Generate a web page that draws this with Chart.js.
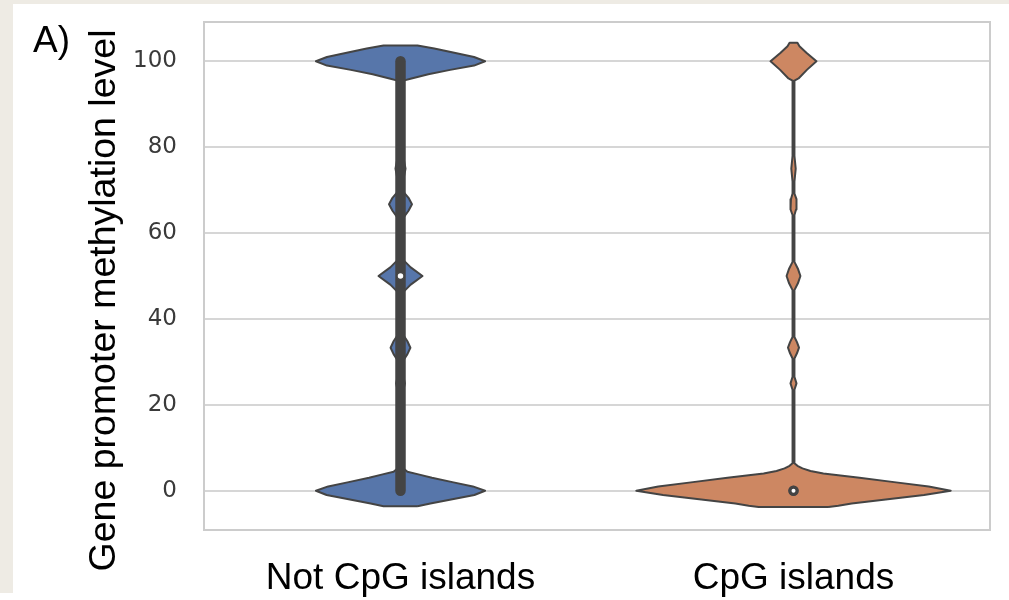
<!DOCTYPE html>
<html>
<head>
<meta charset="utf-8">
<script src="https://cdn.jsdelivr.net/npm/chart.js@4.4.1/dist/chart.umd.min.js"></script>
<style>
  html, body { margin: 0; padding: 0; background: #ffffff; }
  #wrap { width: 1009px; height: 600px; }
</style>
</head>
<body>
<div id="wrap"><canvas id="chart" width="1009" height="600"></canvas></div>
<script>
// Categories and axis ticks
const categories = ['Not CpG islands', 'CpG islands'];
const yTicks = [0, 20, 40, 60, 80, 100];
const yAxisTitle = 'Gene promoter methylation level';
const panelLabel = 'A)';

// Violin density profiles: methylation level -> relative density (100 = widest violin)
const notCpgLevels = [-3.6, -3, -2, -1, 0, 1, 2, 3, 3.8, 4.4, 5.2, 23.5, 25, 26.5, 30.4, 31.8, 33.3, 34.8, 36.2,
  46.3, 48, 50, 52, 53.7, 63.6, 65.2, 66.7, 68.2, 69.6, 72.5, 75, 77.5, 95.5, 96, 97, 98, 99, 100, 101, 102, 103, 103.7];
const notCpgDensity = [10.8, 19, 33, 47, 53.8, 46, 33, 20, 11.4, 4.4, 1.9, 1.9, 2.8, 1.9, 1.9, 4.4, 6.3, 4.4, 1.9,
  1.9, 6.5, 14, 6.5, 1.9, 1.9, 5.1, 7.3, 5.1, 1.9, 1.9, 3.2, 1.9, 1.9, 7, 17.7, 31.6, 46.8, 53.8, 46.8, 34.2, 21.5, 10.8];

const cpgLevels = [-3.8, -3.5, -3, -2, -1, 0, 1, 2, 3, 4, 4.6, 5.2, 5.8, 6.4, 23.5, 25, 26.5, 30.8, 32, 33.3, 34.6, 35.8,
  46.7, 48.3, 50, 51.7, 53.3, 64.2, 65.5, 66.7, 67.9, 69.2, 72, 75, 78, 95.5, 96, 98, 100, 102, 103.5, 104.3];
const cpgDensity = [22.2, 28.5, 37, 60, 83, 100, 86, 64, 42, 19, 10.8, 5.7, 2.5, 0.6, 0.6, 1.9, 0.6, 0.6, 2.2, 3.5, 2.2, 0.6,
  0.6, 2.8, 4.4, 2.8, 0.6, 0.6, 1.6, 2.2, 1.6, 0.6, 0.6, 1.4, 0.6, 0.6, 3.2, 8.5, 14.6, 8.2, 3.8, 2.5];

// Box-plot summary per category
const whiskerLow  = [0, 0];
const quartile1   = [0, 0];
const medians     = [50, 0];
const quartile3   = [100, 0];
const whiskerHigh = [100, 0];

const fillColors = ['#5776aa', '#cd8762'];
const edgeGray = '#444444';
const VIOLIN_HALF = 0.4; // half of a 0.8-wide violin, in category units

function violinOutline(center, levels, density) {
  const right = levels.map((y, k) => ({ x: center + density[k] / 100 * VIOLIN_HALF, y }));
  const left = levels.map((y, k) => ({ x: center - density[k] / 100 * VIOLIN_HALF, y })).reverse();
  return right.concat(left, [right[0]]);
}

const profiles = [
  { levels: notCpgLevels, density: notCpgDensity },
  { levels: cpgLevels, density: cpgDensity }
];

const datasets = [];
profiles.forEach((p, i) => {
  datasets.push({
    label: categories[i],
    data: violinOutline(i, p.levels, p.density),
    showLine: true,
    fill: 'shape',
    backgroundColor: fillColors[i],
    borderColor: edgeGray,
    borderWidth: 2,
    borderJoinStyle: 'round',
    pointRadius: 0,
    tension: 0,
    order: 4
  });
});
categories.forEach((c, i) => {
  datasets.push({
    label: c + ' whisker',
    data: [{ x: i, y: whiskerLow[i] }, { x: i, y: whiskerHigh[i] }],
    showLine: true, fill: false, borderColor: edgeGray, borderWidth: 2.5,
    pointRadius: 0, order: 3
  });
  datasets.push({
    label: c + ' box',
    data: [{ x: i, y: quartile1[i] }, { x: i, y: quartile3[i] }],
    showLine: true, fill: false, borderColor: edgeGray, borderWidth: 10.5,
    borderCapStyle: 'round', pointRadius: 0, order: 2
  });
});
datasets.push({
  label: 'median',
  data: medians.map((m, i) => ({ x: i, y: m })),
  showLine: false,
  pointRadius: 3.5,
  pointBackgroundColor: '#ffffff',
  pointBorderColor: edgeGray,
  pointBorderWidth: [1.5, 3],
  order: 1
});

const pageBackdrop = {
  id: 'pageBackdrop',
  beforeDraw(chart) {
    const { ctx, width, height } = chart;
    ctx.save();
    ctx.fillStyle = '#ffffff';
    ctx.fillRect(0, 0, width, height);
    ctx.fillStyle = '#eeebe4';
    ctx.fillRect(0, 0, width, 4);
    ctx.fillRect(0, 0, 13, 593);
    ctx.restore();
  }
};

const plotFrame = {
  id: 'plotFrame',
  beforeDatasetsDraw(chart) {
    const { ctx, chartArea: a } = chart;
    ctx.save();
    ctx.strokeStyle = '#cccccc';
    ctx.lineWidth = 2;
    ctx.strokeRect(a.left, a.top, a.right - a.left, a.bottom - a.top);
    ctx.restore();
  }
};

const panelText = {
  id: 'panelText',
  afterDraw(chart) {
    const { ctx } = chart;
    ctx.save();
    ctx.fillStyle = '#000000';
    ctx.font = '37px "Liberation Sans", Arial, sans-serif';
    ctx.textAlign = 'left';
    ctx.textBaseline = 'alphabetic';
    ctx.fillText(panelLabel, 33, 52);
    ctx.translate(115, 300.5);
    ctx.rotate(-Math.PI / 2);
    ctx.font = '37.5px "Liberation Sans", Arial, sans-serif';
    ctx.textAlign = 'center';
    ctx.fillText(yAxisTitle, 0, 0);
    ctx.restore();
  }
};

new Chart(document.getElementById('chart'), {
  type: 'scatter',
  data: { datasets },
  plugins: [pageBackdrop, plotFrame, panelText],
  options: {
    responsive: false,
    animation: false,
    devicePixelRatio: 1,
    layout: { padding: { top: 22, right: 19, left: 0, bottom: 0 } },
    plugins: { legend: { display: false }, tooltip: { enabled: false } },
    scales: {
      x: {
        type: 'linear',
        min: -0.5,
        max: 1.5,
        afterBuildTicks: s => { s.ticks = categories.map((_, i) => ({ value: i })); },
        afterFit: s => { s.height = 70; s.paddingLeft = 0; s.paddingRight = 0; },
        grid: { display: false, drawTicks: false },
        border: { display: false },
        ticks: {
          callback: v => categories[v],
          autoSkip: false,
          maxRotation: 0,
          padding: 27,
          color: '#000000',
          font: { family: '"Liberation Sans", Arial, sans-serif', size: 37 }
        }
      },
      y: {
        type: 'linear',
        min: -9.15,
        max: 109.15,
        afterBuildTicks: s => { s.ticks = yTicks.map(v => ({ value: v })); },
        afterFit: s => { s.width = 204; s.paddingTop = 0; s.paddingBottom = 0; },
        grid: { color: '#d6d6d6', lineWidth: 2, drawTicks: false },
        border: { display: false },
        ticks: {
          padding: 27,
          color: '#3a3a3a',
          font: { family: '"DejaVu Sans", sans-serif', size: 23 }
        }
      }
    }
  }
});
</script>
</body>
</html>
